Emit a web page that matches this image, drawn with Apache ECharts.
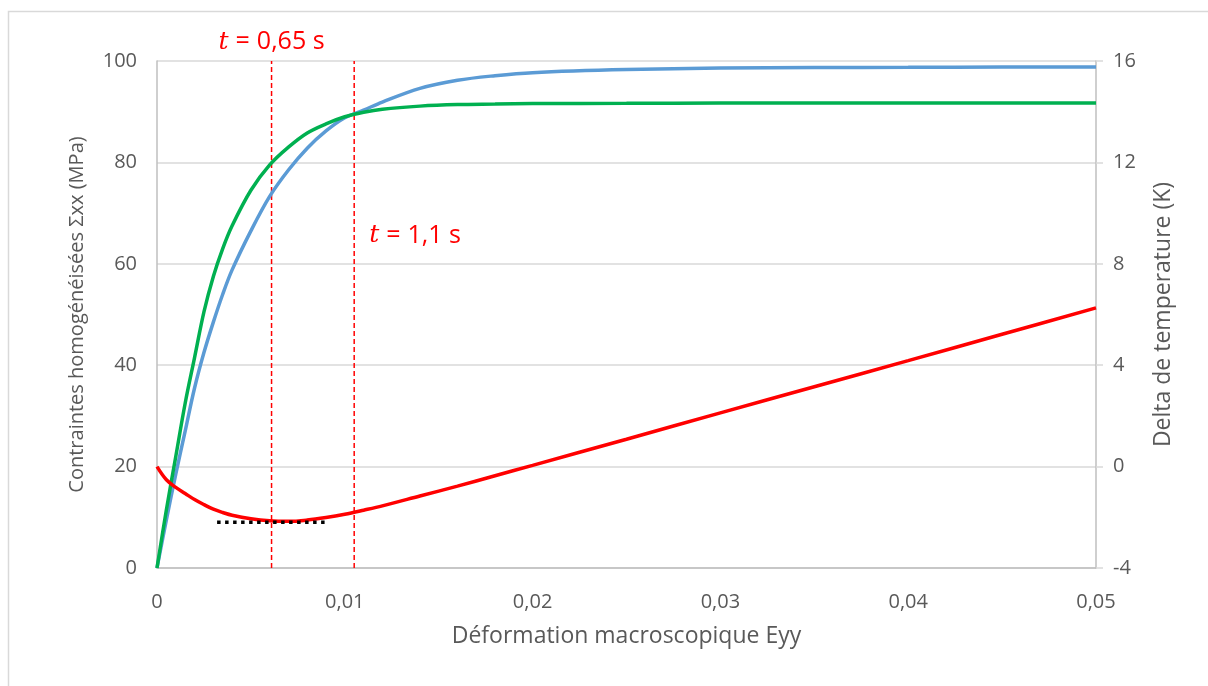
<!DOCTYPE html>
<html>
<head>
<meta charset="utf-8">
<script src="https://cdn.jsdelivr.net/npm/echarts@6/dist/echarts.min.js"></script>
<style>
  html, body { margin: 0; padding: 0; background: #fff; }
  #chart { width: 1208px; height: 686px; }
</style>
</head>
<body>
<div id="chart"></div>
<script>
// Strain (x axis)
const strain = [0, 0.0005, 0.001, 0.0015, 0.002, 0.0025, 0.003, 0.0035, 0.004, 0.005, 0.006, 0.007, 0.008, 0.009, 0.01, 0.011, 0.012, 0.014, 0.016, 0.018, 0.02, 0.025, 0.03, 0.035, 0.04, 0.045, 0.05];
// Homogenised stress, blue curve (MPa, left axis)
const stressBlue = [0, 9.5, 18.5, 27, 35.5, 42.5, 48.5, 54, 58.8, 66.5, 73.3, 78.5, 82.8, 86.2, 88.8, 90.3, 91.9, 94.6, 96.2, 97.1, 97.7, 98.3, 98.6, 98.7, 98.75, 98.8, 98.8];
// Homogenised stress, green curve (MPa, left axis)
const stressGreen = [0, 11.5, 22, 32.5, 41.5, 50.5, 57.5, 63, 67.5, 74.5, 79.5, 83, 85.8, 87.6, 89.0, 89.9, 90.5, 91.1, 91.4, 91.5, 91.6, 91.65, 91.7, 91.7, 91.7, 91.7, 91.7];
// Temperature delta, red curve (K, right axis)
const deltaT = [0, -0.52, -0.82, -1.06, -1.3, -1.5, -1.68, -1.81, -1.92, -2.06, -2.14, -2.16, -2.11, -2.01, -1.88, -1.72, -1.55, -1.16, -0.77, -0.36, 0.05, 1.08, 2.12, 3.15, 4.18, 5.22, 6.26];
// Vertical markers (strain values) and their labels
const markerStrain = [0.0061, 0.0105];
const markerLabelTime = ['0,65', '1,1'];
// Dotted horizontal reference at the temperature minimum
const dottedStrain = [0.0032, 0.0091];
const dottedDeltaT = -2.2;

const xTicks = [0, 0.01, 0.02, 0.03, 0.04, 0.05];
const leftTicks = [0, 20, 40, 60, 80, 100];
const rightTicks = [-4, 0, 4, 8, 12, 16];

const FONT = 'Open Sans';
const LABEL_COLOR = '#595959';
const RED = '#FF0000';

const chart = echarts.init(document.getElementById('chart'));

const zip = (a, b) => a.map((v, i) => [v, b[i]]);
const rMin = rightTicks[0], rMax = rightTicks[rightTicks.length - 1];

const markerSeries = markerStrain.map((x, i) => ({
  name: 'marker' + i, type: 'line', yAxisIndex: 1,
  data: [[x, rMin], [x, rMax]],
  showSymbol: false, silent: true, color: RED,
  itemStyle: { color: RED },
  lineStyle: { color: RED, width: 1.5, type: [5, 3], opacity: 1 }, z: 2
}));

const option = {
  animation: false,
  backgroundColor: '#ffffff',
  textStyle: { fontFamily: FONT },
  grid: { left: 157, right: 112, top: 61, bottom: 118, containLabel: false },
  xAxis: {
    type: 'value',
    min: xTicks[0], max: xTicks[xTicks.length - 1], interval: 0.01,
    name: 'Déformation macroscopique Eyy',
    nameLocation: 'middle', nameGap: 57,
    nameTextStyle: { color: LABEL_COLOR, fontSize: 23, fontFamily: FONT },
    axisLine: { show: true, lineStyle: { color: '#bfbfbf', width: 1.5 } },
    axisTick: { show: false },
    splitLine: { show: false },
    axisLabel: {
      color: LABEL_COLOR, fontSize: 20, fontFamily: FONT, margin: 24,
      formatter: v => (Math.round(v * 100) / 100).toString().replace('.', ',')
    }
  },
  yAxis: [
    {
      type: 'value', position: 'left',
      min: leftTicks[0], max: leftTicks[leftTicks.length - 1], interval: 20,
      name: 'Contraintes homogénéisées Σxx (MPa)',
      nameLocation: 'middle', nameGap: 70, nameRotate: 90,
      nameTextStyle: { color: LABEL_COLOR, fontSize: 20, fontFamily: FONT },
      axisLine: { show: true, lineStyle: { color: '#bfbfbf', width: 1.5 } },
      axisTick: { show: false },
      splitLine: { show: true, lineStyle: { color: '#d9d9d9', width: 1.5 } },
      axisLabel: { color: LABEL_COLOR, fontSize: 20, fontFamily: FONT, margin: 20 }
    },
    {
      type: 'value', position: 'right',
      min: rMin, max: rMax, interval: 4,
      name: 'Delta de temperature (K)',
      nameLocation: 'middle', nameGap: 56, nameRotate: 90,
      nameTextStyle: { color: LABEL_COLOR, fontSize: 23, fontFamily: FONT },
      axisLine: { show: true, lineStyle: { color: '#bfbfbf', width: 1.5 } },
      axisTick: { show: true, inside: false, length: 7, lineStyle: { color: '#d9d9d9', width: 1.5 } },
      splitLine: { show: false },
      axisLabel: { color: LABEL_COLOR, fontSize: 20, fontFamily: FONT, margin: 17 }
    }
  ],
  series: [
    {
      name: 'Σxx (bleu)', type: 'line', yAxisIndex: 0,
      data: zip(strain, stressBlue),
      showSymbol: false, smooth: 0.35, color: '#5B9BD5',
      lineStyle: { color: '#5B9BD5', width: 3.5 }, z: 3
    },
    {
      name: 'Σxx (vert)', type: 'line', yAxisIndex: 0,
      data: zip(strain, stressGreen),
      showSymbol: false, smooth: 0.35, color: '#00B050',
      lineStyle: { color: '#00B050', width: 3.5 }, z: 4
    },
    {
      name: 'Delta T', type: 'line', yAxisIndex: 1,
      data: zip(strain, deltaT),
      showSymbol: false, smooth: 0.35, color: RED,
      lineStyle: { color: RED, width: 3.5 }, z: 5
    },
    {
      name: 'min', type: 'line', yAxisIndex: 1,
      data: dottedStrain.map(x => [x, dottedDeltaT]),
      showSymbol: false, silent: true, color: '#000000',
      lineStyle: { color: '#000000', width: 3.5, type: [3.5, 4.5], cap: 'butt' }, z: 6
    }
  ].concat(markerSeries)
};

chart.setOption(option);

// Annotation texts positioned from data coordinates
const p1 = chart.convertToPixel({ xAxisIndex: 0, yAxisIndex: 0 }, [markerStrain[0], 100]);
const p2 = chart.convertToPixel({ xAxisIndex: 0, yAxisIndex: 0 }, [markerStrain[1], 65.5]);
const richStyle = {
  i: { fontFamily: 'DejaVu Serif', fontStyle: 'italic', fontSize: 25, fill: RED },
  e: { fontFamily: FONT, fontSize: 25, fill: RED, padding: [0, 7] },
  n: { fontFamily: FONT, fontSize: 25, fill: RED }
};
const label = t => '{i|t}{e|=}{n|' + t + ' s}';
chart.setOption({
  graphic: [
    {
      type: 'rect', silent: true, z: -10,
      shape: { x: 8.5, y: 11.5, width: 1400, height: 900 },
      style: { fill: 'none', stroke: '#d9d9d9', lineWidth: 1.5 }
    },
    {
      type: 'text', silent: true,
      x: p1[0], y: p1[1] - 19,
      style: { text: label(markerLabelTime[0]), rich: richStyle, align: 'center', verticalAlign: 'middle' }
    },
    {
      type: 'text', silent: true,
      x: p2[0] + 15, y: p2[1],
      style: { text: label(markerLabelTime[1]), rich: richStyle, align: 'left', verticalAlign: 'middle' }
    }
  ]
});
</script>
</body>
</html>
